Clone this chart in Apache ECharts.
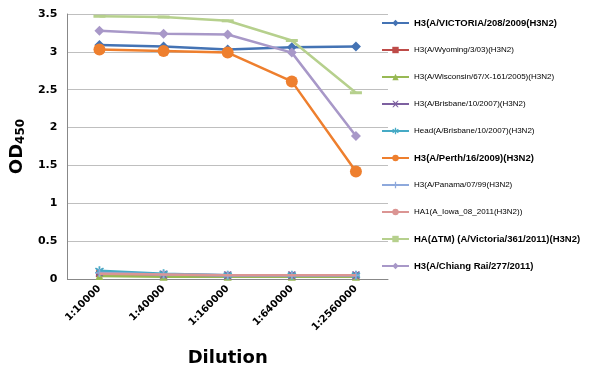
<!DOCTYPE html>
<html><head><meta charset="utf-8">
<script src="https://cdn.jsdelivr.net/npm/echarts@6/dist/echarts.min.js"></script>
<style>html,body{margin:0;padding:0;background:#fff}#c{width:594px;height:376px}</style>
</head><body><div id="c"></div>
<script>
const categories = ['1:10000','1:40000','1:160000','1:640000','1:2560000'];
const yTicks = [0,0.5,1,1.5,2,2.5,3,3.5];
const names = [
  'H3(A/VICTORIA/208/2009(H3N2)',
  'H3(A/Wyoming/3/03)(H3N2)',
  'H3(A/Wisconsin/67/X-161/2005)(H3N2)',
  'H3(A/Brisbane/10/2007)(H3N2)',
  'Head(A/Brisbane/10/2007)(H3N2)',
  'H3(A/Perth/16/2009)(H3N2)',
  'H3(A/Panama/07/99(H3N2)',
  'HA1(A_Iowa_08_2011(H3N2))',
  'HA(ΔTM) (A/Victoria/361/2011)(H3N2)',
  'H3(A/Chiang Rai/277/2011)'
];
const victoria = [3.09, 3.07, 3.03, 3.06, 3.07];
const wyoming = [0.07, 0.05, 0.04, 0.04, 0.04];
const wisconsin = [0.04, 0.03, 0.03, 0.03, 0.03];
const brisbane = [0.09, 0.06, 0.05, 0.05, 0.05];
const headBrisbane = [0.11, 0.07, 0.05, 0.05, 0.05];
const perth = [3.03, 3.01, 2.99, 2.61, 1.42];
const panama = [0.08, 0.06, 0.05, 0.05, 0.05];
const iowa = [0.07, 0.06, 0.05, 0.05, 0.05];
const deltaTM = [3.47, 3.46, 3.41, 3.15, 2.46];
const chiangRai = [3.28, 3.24, 3.23, 2.99, 1.89];

const seriesData = [victoria, wyoming, wisconsin, brisbane, headBrisbane, perth, panama, iowa, deltaTM, chiangRai];
const colors = ['#4473B4','#BE4B48','#98B954','#7D60A0','#46AAC5','#EE7F2E','#8EA9DC','#DB9593','#B6D08D','#A898C8'];
const symbols = ['diamond','rect','triangle','path://M0,0L2,0L5,3L8,0L10,0L6,5L10,10L8,10L5,7L2,10L0,10L4,5Z',
  'path://M4,0L6,0L6,3.5L9,1.5L10,3L7,5L10,7L9,8.5L6,6.5L6,10L4,10L4,6.5L1,8.5L0,7L3,5L0,3L1,1.5L4,3.5Z',
  'circle','path://M4,0L6,0L6,4L10,4L10,6L6,6L6,10L4,10L4,6L0,6L0,4L4,4Z','none','rect','diamond'];
const sizes = [10, 7, 8, 8, 9, 12, 8, 0, [12,3], 10];
const bold = [true,false,false,false,false,true,false,false,true,true];
const FONT = "'Liberation Sans', Arial, sans-serif";

const chart = echarts.init(document.getElementById('c'));
chart.setOption({
  animation: false,
  grid: {left: 66, right: 206, top: 14, bottom: 97},
  legend: {
    orient: 'vertical', left: 381, top: 17, padding: 0, itemGap: 15, itemWidth: 27, itemHeight: 8,
    data: names.map((n,i)=>({name:n, textStyle:{fontWeight: bold[i]?'bold':'normal', fontSize: bold[i]?9.5:8, lineHeight: 12, color:'#000', fontFamily: FONT}})),
    textStyle:{fontFamily: FONT, lineHeight: 12}
  },
  xAxis: {
    type: 'category', data: categories, boundaryGap: true,
    axisLine: {lineStyle:{color:'#888'}}, axisTick:{show:false},
    axisLabel: {rotate: 45, color:'#000', fontWeight:'bold', fontSize: 10, fontFamily:'DejaVu Sans', margin: 8},
    name: 'Dilution', nameLocation: 'middle', nameGap: 70,
    nameTextStyle: {fontSize: 18, fontWeight:'bold', color:'#000', fontFamily:'DejaVu Sans'}
  },
  yAxis: {
    type: 'value', min: 0, max: 3.5, interval: 0.5,
    axisLine: {show:true, lineStyle:{color:'#888'}}, axisTick:{show:false},
    splitLine: {lineStyle:{color:'#BFBFBF'}},
    axisLabel: {color:'#000', fontWeight:'bold', fontSize: 11, fontFamily:'DejaVu Sans', margin: 10,
      formatter: v => yTicks.includes(v) ? String(v) : ''},
    name: 'OD{s|450}', nameLocation:'middle', nameGap: 40, nameRotate: 90,
    nameTextStyle: {fontSize: 18, fontWeight:'bold', color:'#000', fontFamily:'DejaVu Sans',
      rich:{s:{fontSize:12, fontWeight:'bold', color:'#000', fontFamily:'DejaVu Sans', verticalAlign:'bottom', padding:[8,0,0,0]}}}
  },
  series: names.map((n,i)=>({
    name: n, type: 'line', data: seriesData[i], symbol: symbols[i], symbolSize: sizes[i],
    showSymbol: symbols[i] !== 'none',
    lineStyle: {color: colors[i], width: 2.5}, itemStyle: {color: colors[i]},
    z: i
  }))
});
</script></body></html>
